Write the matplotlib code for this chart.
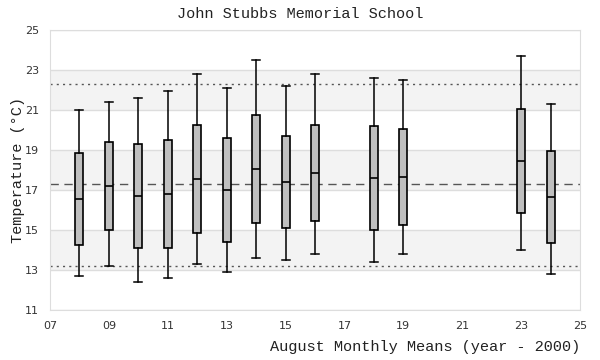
import matplotlib
matplotlib.use('Agg')
import matplotlib.pyplot as plt

# --- data ---
years = [8, 9, 10, 11, 12, 13, 14, 15, 16, 18, 19, 23, 24]
whis_lo = [12.7, 13.2, 12.4, 12.6, 13.3, 12.9, 13.6, 13.5, 13.8, 13.4, 13.8, 14.0, 12.8]
q1 = [14.25, 15.0, 14.1, 14.1, 14.85, 14.4, 15.35, 15.1, 15.45, 15.0, 15.25, 15.85, 14.35]
med = [16.55, 17.2, 16.7, 16.8, 17.55, 17.0, 18.05, 17.4, 17.85, 17.6, 17.65, 18.45, 16.65]
q3 = [18.85, 19.4, 19.3, 19.5, 20.25, 19.6, 20.75, 19.7, 20.25, 20.2, 20.05, 21.05, 18.95]
whis_hi = [21.0, 21.4, 21.6, 21.95, 22.8, 22.1, 23.5, 22.2, 22.8, 22.6, 22.5, 23.7, 21.3]

overall_mean = 17.28
upper_lim = 22.28
lower_lim = 13.18

y_ticks = [11, 13, 15, 17, 19, 21, 23, 25]
x_ticks = [7, 9, 11, 13, 15, 17, 19, 21, 23, 25]

mono = ['Liberation Mono', 'DejaVu Sans Mono']

fig = plt.figure(figsize=(6, 3.6), dpi=100)
ax = fig.add_axes([50 / 600, 50 / 360, 530 / 600, 280 / 360])

# shaded bands every other grid interval
for lo in (13, 17, 21):
    ax.axhspan(lo, lo + 2, color='#f3f3f3', zorder=0, lw=0)
for y in y_ticks:
    ax.axhline(y, color='#dddddd', lw=1, zorder=0.5)

ax.axhline(overall_mean, color='#555555', lw=1, ls=(0, (6, 4)), zorder=1)
ax.axhline(upper_lim, color='#555555', lw=1, ls=(0, (1.5, 3)), zorder=1)
ax.axhline(lower_lim, color='#555555', lw=1, ls=(0, (1.5, 3)), zorder=1)

stats = []
for i in range(len(years)):
    stats.append({'whislo': whis_lo[i], 'q1': q1[i], 'med': med[i],
                  'q3': q3[i], 'whishi': whis_hi[i], 'fliers': []})

ax.bxp(stats, positions=years, widths=0.27, patch_artist=True, showfliers=False,
       boxprops=dict(facecolor='#bfbfbf', edgecolor='black', linewidth=1.2),
       medianprops=dict(color='black', linewidth=1.2),
       whiskerprops=dict(color='black', linewidth=1.1),
       capprops=dict(color='black', linewidth=1.1),
       capwidths=0.27, manage_ticks=False, zorder=3)

ax.set_xlim(7, 25)
ax.set_ylim(11, 25)
ax.set_xticks(x_ticks)
ax.set_xticklabels([f'{v:02d}' for v in x_ticks])
ax.set_yticks(y_ticks)
ax.tick_params(length=0, labelsize=8, colors='#333333', pad=8)

for s in ax.spines.values():
    s.set_color('#dddddd')

fig.text(0.5, 1 - 14 / 360, 'John Stubbs Memorial School', ha='center', va='center',
         family=mono, fontsize=11, color='#222222')
fig.text(580 / 600, 1 - 347 / 360, 'August Monthly Means (year - 2000)',
         ha='right', va='center', family=mono, fontsize=11, color='#222222')
fig.text(18 / 600, 1 - 170 / 360, 'Temperature (°C)', ha='center', va='center',
         rotation=90, family=mono, fontsize=11, color='#222222')

fig.savefig('out.png', dpi=100)
plt.close(fig)
